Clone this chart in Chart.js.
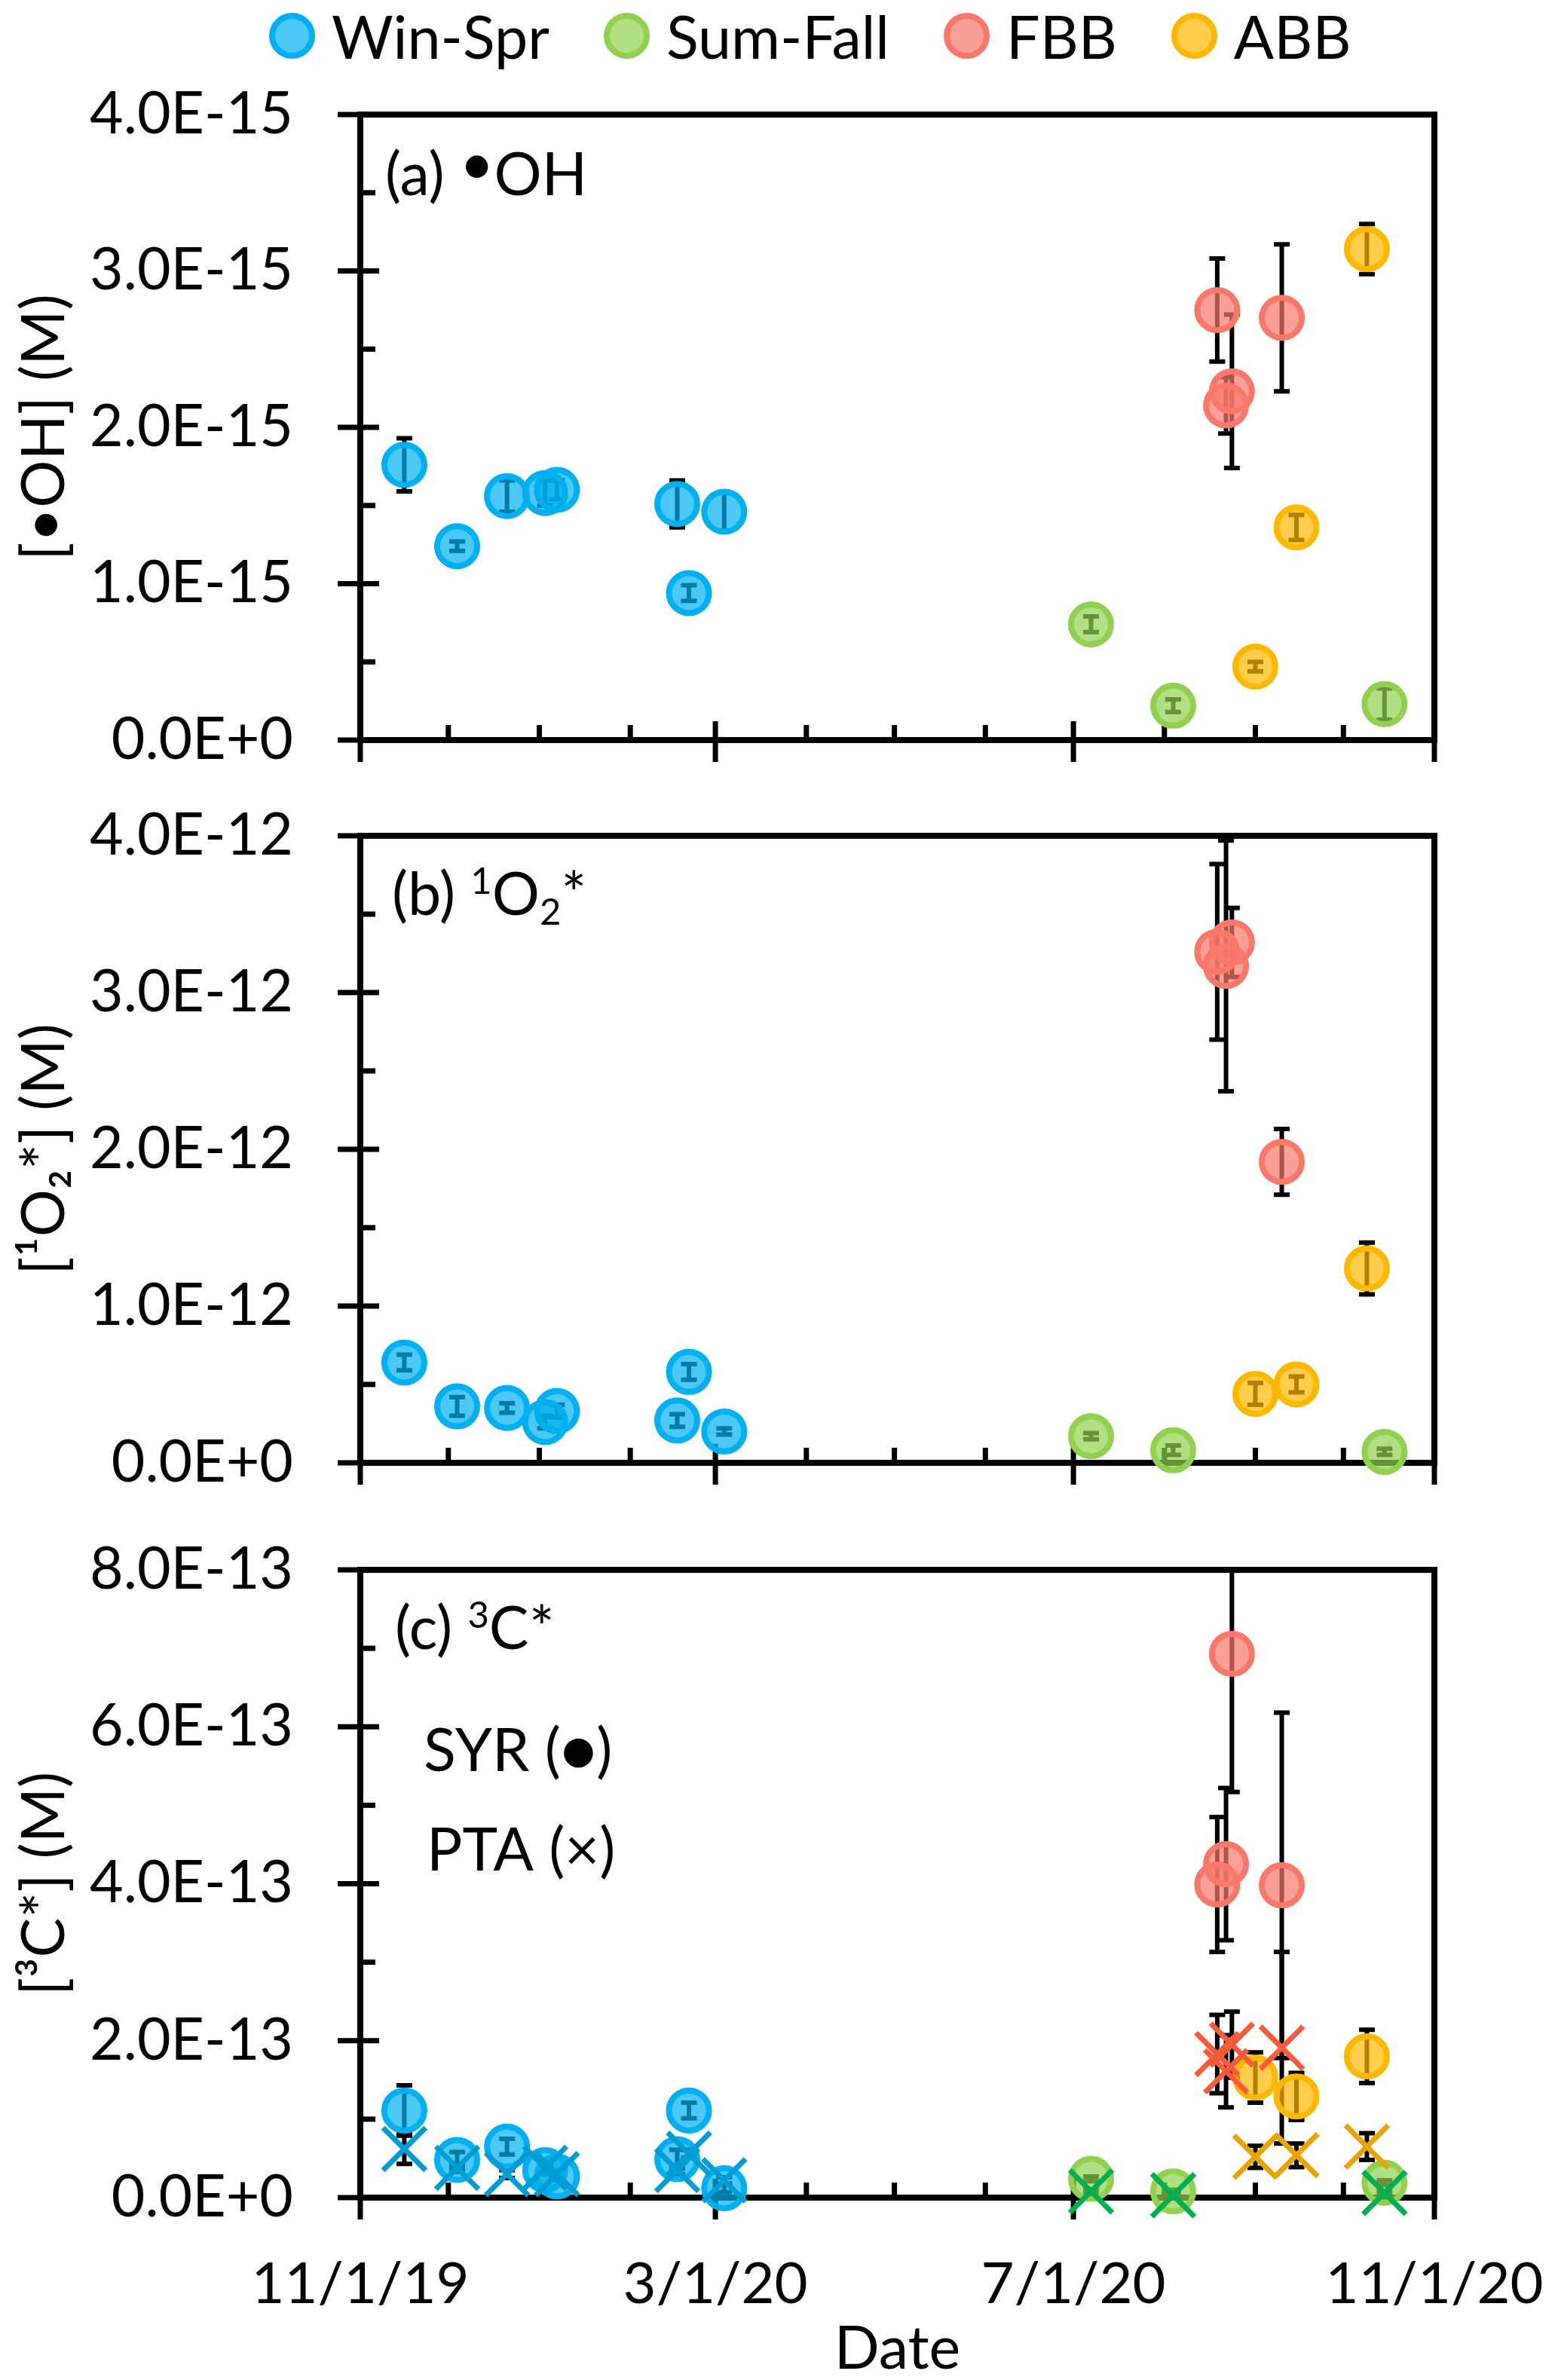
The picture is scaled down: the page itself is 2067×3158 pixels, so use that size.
<!DOCTYPE html>
<html>
<head>
<meta charset="utf-8">
<script src="https://cdn.jsdelivr.net/npm/chart.js@4.4.1/dist/chart.umd.min.js"></script>
<style>
  html, body { margin: 0; padding: 0; background: #fff; overflow: hidden; }
  #wrap { position: relative; width: 2067px; height: 3158px; font-family: Lato, sans-serif; }
  #wrap canvas { position: absolute; left: 0; }
  #legend { position: absolute; left: 357px; top: 7px; height: 80px; display: flex; align-items: center; }
  .item { display: flex; align-items: center; margin-right: 72px; font-size: 79px; color: #000; }
  .dot { box-sizing: border-box; width: 61px; height: 61px; border-radius: 50%; border: 8px solid; margin-right: 22px; }
</style>
</head>
<body>
<div id="wrap">
  <div id="legend"></div>
  <canvas id="chartA" width="2067" height="1040" style="top:0;width:2067px;height:1040px"></canvas>
  <canvas id="chartB" width="2067" height="960" style="top:1040px;width:2067px;height:960px"></canvas>
  <canvas id="chartC" width="2067" height="1158" style="top:2000px;width:2067px;height:1158px"></canvas>
</div>
<script>
// sampling dates per group
const winSprDates = ['2019-11-16', '2019-12-04', '2019-12-21', '2020-01-03', '2020-01-07', '2020-02-17', '2020-02-21', '2020-03-04'];
const sumFallDates = ['2020-07-07', '2020-08-04', '2020-10-15'];
const fbbDates = ['2020-08-19', '2020-08-22', '2020-08-24', '2020-09-10'];
const abbDates = ['2020-09-01', '2020-09-15', '2020-10-09'];

const xTickDates = ['2019-11-01', '2020-03-01', '2020-07-01', '2020-11-01'];
const xTickLabels = ['11/1/19', '3/1/20', '7/1/20', '11/1/20'];
const monthStarts = ['2019-12-01', '2020-01-01', '2020-02-01', '2020-04-01', '2020-05-01', '2020-06-01', '2020-08-01', '2020-09-01', '2020-10-01'];

// (a) OH radical
const ohWinSpr = [1.76e-15, 1.24e-15, 1.56e-15, 1.58e-15, 1.60e-15, 1.51e-15, 0.94e-15, 1.46e-15];
const ohWinSprErr = [0.17e-15, 0.03e-15, 0.10e-15, 0.08e-15, 0.06e-15, 0.15e-15, 0.05e-15, 0.12e-15];
const ohSumFall = [0.74e-15, 0.22e-15, 0.23e-15];
const ohSumFallErr = [0.05e-15, 0.04e-15, 0.10e-15];
const ohFbb = [2.75e-15, 2.14e-15, 2.23e-15, 2.70e-15];
const ohFbbErr = [0.33e-15, 0.18e-15, 0.49e-15, 0.47e-15];
const ohAbb = [0.47e-15, 1.36e-15, 3.14e-15];
const ohAbbErr = [0.03e-15, 0.08e-15, 0.16e-15];
const ohTicks = [0, 1e-15, 2e-15, 3e-15, 4e-15];
const ohTickLabels = ['0.0E+0', '1.0E-15', '2.0E-15', '3.0E-15', '4.0E-15'];

// (b) singlet oxygen
const o2WinSpr = [0.64e-12, 0.36e-12, 0.35e-12, 0.26e-12, 0.33e-12, 0.27e-12, 0.58e-12, 0.20e-12];
const o2WinSprErr = [0.05e-12, 0.06e-12, 0.03e-12, 0.04e-12, 0.04e-12, 0.04e-12, 0.05e-12, 0.02e-12];
const o2SumFall = [0.17e-12, 0.08e-12, 0.07e-12];
const o2SumFallErr = [0.02e-12, 0.03e-12, 0.02e-12];
const o2Fbb = [3.26e-12, 3.17e-12, 3.32e-12, 1.92e-12];
const o2FbbErr = [0.56e-12, 0.80e-12, 0.22e-12, 0.21e-12];
const o2Abb = [0.44e-12, 0.50e-12, 1.24e-12];
const o2AbbErr = [0.07e-12, 0.05e-12, 0.165e-12];
const o2Ticks = [0, 1e-12, 2e-12, 3e-12, 4e-12];
const o2TickLabels = ['0.0E+0', '1.0E-12', '2.0E-12', '3.0E-12', '4.0E-12'];

// (c) triplet excited states, SYR probe
const tcSyrWinSpr = [1.11e-13, 0.48e-13, 0.65e-13, 0.35e-13, 0.27e-13, 0.49e-13, 1.11e-13, 0.12e-13];
const tcSyrWinSprErr = [0.32e-13, 0.10e-13, 0.10e-13, 0.05e-13, 0.05e-13, 0.12e-13, 0.10e-13, 0.05e-13];
const tcSyrSumFall = [0.24e-13, 0.08e-13, 0.19e-13];
const tcSyrSumFallErr = [0.03e-13, 0.02e-13, 0.03e-13];
const tcSyrFbb = [3.99e-13, 4.25e-13, 6.93e-13, 3.98e-13];
const tcSyrFbbErr = [0.86e-13, 0.97e-13, 1.76e-13, 2.20e-13];
const tcSyrAbb = [1.53e-13, 1.29e-13, 1.80e-13];
const tcSyrAbbErr = [0.32e-13, 0.30e-13, 0.34e-13];
// (c) PTA probe
const tcPtaWinSpr = [0.62e-13, 0.38e-13, 0.30e-13, 0.38e-13, 0.30e-13, 0.35e-13, 0.56e-13, 0.22e-13];
const tcPtaWinSprErr = [0.19e-13, 0.05e-13, 0.05e-13, 0.05e-13, 0.05e-13, 0.05e-13, 0.05e-13, 0.04e-13];
const tcPtaSumFall = [0.08e-13, 0.03e-13, 0.06e-13];
const tcPtaSumFallErr = [0.02e-13, 0.02e-13, 0.02e-13];
const tcPtaFbb = [1.83e-13, 1.61e-13, 1.95e-13, 1.91e-13];
const tcPtaFbbErr = [0.50e-13, 0.46e-13, 0.42e-13, 1.22e-13];
const tcPtaAbb = [0.52e-13, 0.54e-13, 0.65e-13];
const tcPtaAbbErr = [0.14e-13, 0.15e-13, 0.17e-13];
const tcTicks = [0, 2e-13, 4e-13, 6e-13, 8e-13];
const tcTickLabels = ['0.0E+0', '2.0E-13', '4.0E-13', '6.0E-13', '8.0E-13'];

const groups = ['Win-Spr', 'Sum-Fall', 'FBB', 'ABB'];
const groupDates = [winSprDates, sumFallDates, fbbDates, abbDates];

// styles
const ringColors = ['#00B0F0', '#92D050', '#FA7869', '#FFB800'];
const fillColors = ['rgba(0,176,240,0.7)', 'rgba(146,208,80,0.7)', 'rgba(250,120,105,0.7)', 'rgba(255,184,0,0.7)'];
const crossColors = ['#009CD4', '#00B050', '#FA5A3C', '#E9A400'];
const FONT = 'Lato, "Open Sans", sans-serif';

const DAY0 = Date.UTC(2019, 10, 1);
function dayOf(s) {
  const [y, m, d] = s.split('-').map(Number);
  return (Date.UTC(y, m - 1, d) - DAY0) / 864e5;
}

// legend (html)
const legendEl = document.getElementById('legend');
groups.forEach((g, i) => {
  const item = document.createElement('div');
  item.className = 'item';
  const dot = document.createElement('span');
  dot.className = 'dot';
  dot.style.borderColor = ringColors[i];
  dot.style.background = fillColors[i];
  const txt = document.createElement('span');
  txt.textContent = g;
  item.appendChild(dot);
  item.appendChild(txt);
  legendEl.appendChild(item);
});

// box + tick marks, drawn under the markers
const frame = {
  id: 'frame',
  beforeDatasetsDraw(chart, args, opts) {
    const { ctx, chartArea: a, scales: { x, y } } = chart;
    const line = (x1, y1, x2, y2) => { ctx.beginPath(); ctx.moveTo(x1, y1); ctx.lineTo(x2, y2); ctx.stroke(); };
    ctx.save();
    ctx.strokeStyle = '#000';
    ctx.lineWidth = 7;
    const yt = opts.yTicks;
    yt.forEach(v => { const py = y.getPixelForValue(v); line(a.left - 30, py, a.left + 25, py); });
    for (let i = 0; i < yt.length - 1; i++) {
      const py = y.getPixelForValue((yt[i] + yt[i + 1]) / 2);
      line(a.left, py, a.left + 20, py);
    }
    xTickDates.forEach(d => { const px = x.getPixelForValue(dayOf(d)); line(px, a.bottom - 25, px, a.bottom + 29); });
    monthStarts.forEach(d => { const px = x.getPixelForValue(dayOf(d)); line(px, a.bottom - 20, px, a.bottom); });
    ctx.lineWidth = 8;
    ctx.strokeRect(a.left, a.top, a.width, a.height);
    ctx.restore();
  }
};

const errorBars = {
  id: 'errorBars',
  beforeDatasetsDraw(chart) {
    const { ctx, chartArea: a, scales: { x, y } } = chart;
    ctx.save();
    ctx.beginPath();
    ctx.rect(a.left, a.top, a.width, a.height + 40);
    ctx.clip();
    ctx.strokeStyle = '#000';
    ctx.lineWidth = 6;
    chart.data.datasets.forEach(ds => {
      if (!ds.errors) return;
      ds.data.forEach((p, i) => {
        const e = ds.errors[i];
        const px = x.getPixelForValue(p.x);
        const top = y.getPixelForValue(p.y + e);
        const bot = y.getPixelForValue(p.y - e);
        ctx.beginPath();
        ctx.moveTo(px, top); ctx.lineTo(px, bot);
        ctx.moveTo(px - 10.5, top); ctx.lineTo(px + 10.5, top);
        ctx.moveTo(px - 10.5, bot); ctx.lineTo(px + 10.5, bot);
        ctx.stroke();
      });
    });
    ctx.restore();
  }
};

function drawRich(ctx, x, y, parts, size) {
  parts.forEach(p => {
    const small = p.sup || p.sub;
    const s = small ? size * 0.62 : size;
    ctx.font = s + 'px ' + FONT;
    let dy = 0;
    if (p.sup) dy = -size * 0.36;
    if (p.sub) dy = size * 0.16;
    if (p.raise) dy = -size * p.raise;
    ctx.fillText(p.t, x, y + dy);
    x += ctx.measureText(p.t).width;
  });
}

const annot = {
  id: 'annot',
  afterDraw(chart, args, opts) {
    const { ctx, chartArea: a } = chart;
    ctx.save();
    ctx.fillStyle = '#000';
    ctx.textBaseline = 'alphabetic';
    ctx.textAlign = 'left';
    opts.items.forEach(it => drawRich(ctx, a.left + it.dx, a.top + it.dy, it.parts, 79));
    ctx.restore();
  }
};

function circleSet(g, values, errors) {
  return {
    label: groups[g],
    data: groupDates[g].map((d, i) => ({ x: dayOf(d), y: values[i] })),
    errors,
    pointStyle: 'circle',
    pointRadius: 26.5,
    pointBorderWidth: 8,
    pointBorderColor: ringColors[g],
    pointBackgroundColor: fillColors[g],
    borderColor: ringColors[g],
    backgroundColor: fillColors[g],
    clip: false,
    order: 2
  };
}

function crossSet(g, values, errors) {
  return {
    label: groups[g] + ' PTA',
    data: groupDates[g].map((d, i) => ({ x: dayOf(d), y: values[i] })),
    errors,
    pointStyle: 'crossRot',
    pointRadius: 40,
    pointBorderWidth: 7,
    pointBorderColor: crossColors[g],
    borderColor: crossColors[g],
    backgroundColor: crossColors[g],
    clip: false,
    order: 1
  };
}

const yTickFont = { family: FONT, size: 77 };
const xTickFont = { family: FONT, size: 76 };

// keep the plot box fixed: drop the label overhang chart.js adds
function noPad(s) {
  s.paddingLeft = 0; s.paddingRight = 0; s.paddingTop = 0; s.paddingBottom = 0;
}

function makePanel(id, p) {
  return new Chart(document.getElementById(id), {
    type: 'scatter',
    data: { datasets: p.datasets },
    options: {
      responsive: false,
      devicePixelRatio: 1,
      animation: false,
      events: [],
      layout: { padding: { top: p.top, right: 164, bottom: 0, left: 0 } },
      plugins: {
        legend: { display: false },
        tooltip: { enabled: false },
        frame: { yTicks: p.yTicks },
        annot: { items: p.notes }
      },
      scales: {
        x: {
          type: 'linear',
          min: dayOf(xTickDates[0]),
          max: dayOf(xTickDates[xTickDates.length - 1]),
          grid: { display: false, drawTicks: false, tickLength: 0 },
          border: { display: false },
          afterFit: s => { s.height = p.xHeight; noPad(s); },
          afterBuildTicks: s => { s.ticks = xTickDates.map(d => ({ value: dayOf(d) })); },
          ticks: {
            display: p.showX, autoSkip: false, maxRotation: 0, minRotation: 0,
            padding: 70, color: '#000', font: xTickFont,
            callback: (v, i) => xTickLabels[i]
          },
          title: {
            display: p.showX, text: 'Date', color: '#000',
            font: { family: FONT, size: 79, lineHeight: 1 },
            padding: { top: 0, bottom: 1 }
          }
        },
        y: {
          min: p.yTicks[0],
          max: p.yTicks[p.yTicks.length - 1],
          grid: { display: false, drawTicks: false, tickLength: 0 },
          border: { display: false },
          afterFit: s => { s.width = 478; noPad(s); },
          afterBuildTicks: s => { s.ticks = p.yTicks.map(v => ({ value: v })); },
          ticks: {
            padding: 89, color: '#000', font: yTickFont,
            callback: (v, i) => p.yLabels[i]
          },
          title: {
            display: true, text: p.yTitle, color: '#000',
            font: { family: FONT, size: 79, lineHeight: 1 },
            padding: { top: 20, bottom: 0 }
          }
        }
      }
    },
    plugins: [frame, errorBars, annot]
  });
}

makePanel('chartA', {
  top: 152, xHeight: 58, showX: false,
  yTicks: ohTicks, yLabels: ohTickLabels, yTitle: '[•OH] (M)',
  datasets: [
    circleSet(0, ohWinSpr, ohWinSprErr),
    circleSet(1, ohSumFall, ohSumFallErr),
    circleSet(2, ohFbb, ohFbbErr),
    circleSet(3, ohAbb, ohAbbErr)
  ],
  notes: [{ dx: 33, dy: 107, parts: [{ t: '(a) ' }, { t: '•', raise: 0.18 }, { t: 'OH' }] }]
});

makePanel('chartB', {
  top: 69, xHeight: 59, showX: false,
  yTicks: o2Ticks, yLabels: o2TickLabels, yTitle: '[¹O₂*] (M)',
  datasets: [
    circleSet(0, o2WinSpr, o2WinSprErr),
    circleSet(1, o2SumFall, o2SumFallErr),
    circleSet(2, o2Fbb, o2FbbErr),
    circleSet(3, o2Abb, o2AbbErr)
  ],
  notes: [{ dx: 42, dy: 105, parts: [{ t: '(b) ' }, { t: '1', sup: true }, { t: 'O' }, { t: '2', sub: true }, { t: '*' }] }]
});

makePanel('chartC', {
  top: 83, xHeight: 242, showX: true,
  yTicks: tcTicks, yLabels: tcTickLabels, yTitle: '[³C*] (M)',
  datasets: [
    crossSet(0, tcPtaWinSpr, tcPtaWinSprErr),
    crossSet(1, tcPtaSumFall, tcPtaSumFallErr),
    crossSet(2, tcPtaFbb, tcPtaFbbErr),
    crossSet(3, tcPtaAbb, tcPtaAbbErr),
    circleSet(0, tcSyrWinSpr, tcSyrWinSprErr),
    circleSet(1, tcSyrSumFall, tcSyrSumFallErr),
    circleSet(2, tcSyrFbb, tcSyrFbbErr),
    circleSet(3, tcSyrAbb, tcSyrAbbErr)
  ],
  notes: [
    { dx: 46, dy: 105, parts: [{ t: '(c) ' }, { t: '3', sup: true }, { t: 'C*' }] },
    { dx: 84, dy: 267, parts: [{ t: 'SYR (●)' }] },
    { dx: 88, dy: 399, parts: [{ t: 'PTA (×)' }] }
  ]
});
</script>
</body>
</html>
